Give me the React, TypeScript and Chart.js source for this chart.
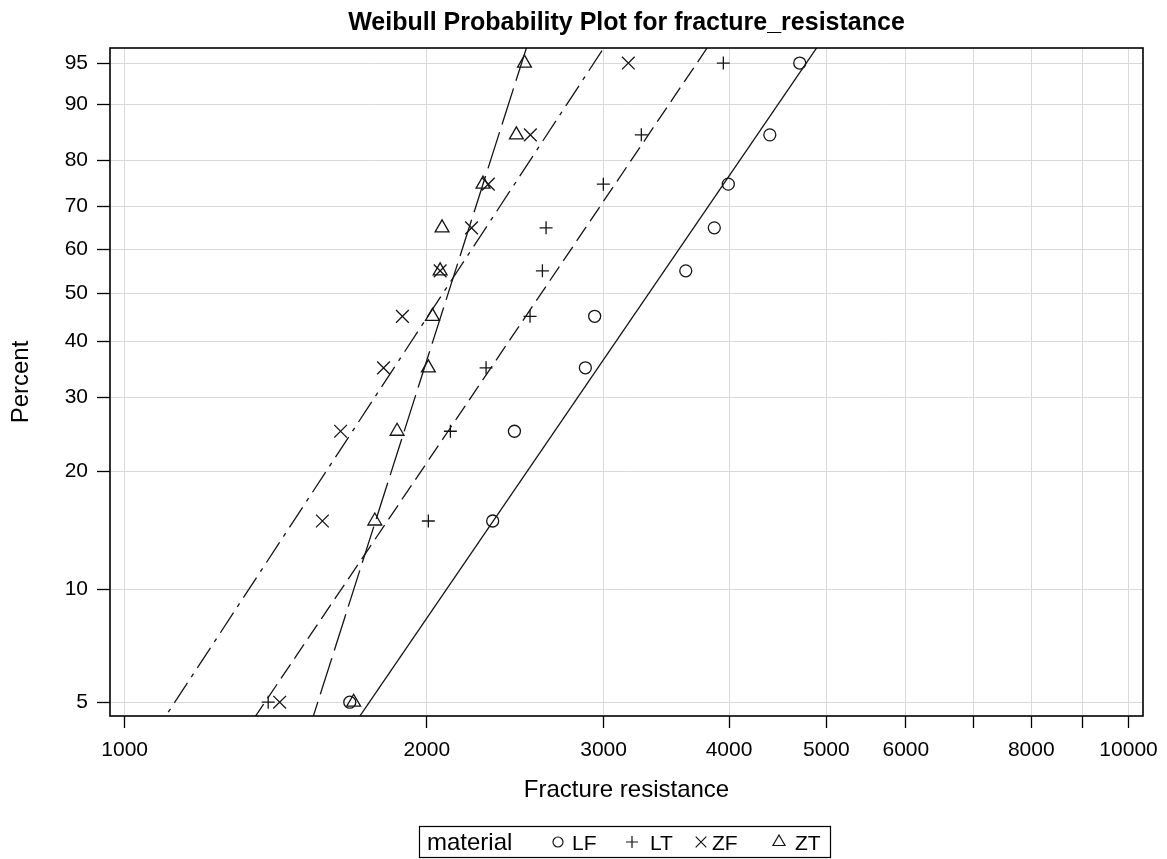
import React, { useEffect, useRef } from "react";
import { Chart, registerables } from "chart.js";

Chart.register(...registerables);

// ---------- data ----------
const materials = ["LF", "LT", "ZF", "ZT"];
const percents = [5, 15, 25, 35, 45, 55, 65, 75, 85, 95];
const lfValues = [1676, 2326, 2445, 2877, 2939, 3622, 3867, 3993, 4392, 4704];
const ltValues = [1390, 2007, 2111, 2291, 2534, 2607, 2629, 2998, 3271, 3948];
const zfValues = [1427, 1574, 1641, 1811, 1891, 2062, 2216, 2303, 2536, 3175];
const ztValues = [1691, 1775, 1868, 2007, 2026, 2062, 2071, 2275, 2456, 2502];

// fitted Weibull lines: fracture resistance at the two percent levels below
const linePercents = [4, 97];
const lfLine = [1657, 4964];
const ltLine = [1305, 3861];
const zfLine = [1063, 3045];
const ztLine = [1517, 2531];

const xTicks = [1000, 2000, 3000, 4000, 5000, 6000, 7000, 8000, 9000, 10000];
const xTickLabels = ["1000", "2000", "3000", "4000", "5000", "6000", "", "8000", "", "10000"];
const xRange = [967, 10337];
const yTicks = [5, 10, 20, 30, 40, 50, 60, 70, 80, 90, 95];
const yRange = [4.59, 96.3];

const FONT = "'Liberation Sans', Arial, Helvetica, sans-serif";
const INK = "#141414";

// Weibull probability scale
const weib = (p: number) => Math.log(-Math.log(1 - p / 100));

function drawMarker(ctx: CanvasRenderingContext2D, style: string, x: number, y: number, r: number) {
  ctx.beginPath();
  if (style === "circle") {
    ctx.arc(x, y, r, 0, Math.PI * 2);
  } else if (style === "cross") {
    ctx.moveTo(x - r, y);
    ctx.lineTo(x + r, y);
    ctx.moveTo(x, y - r);
    ctx.lineTo(x, y + r);
  } else if (style === "crossRot") {
    const d = r * 0.7071;
    ctx.moveTo(x - d, y - d);
    ctx.lineTo(x + d, y + d);
    ctx.moveTo(x + d, y - d);
    ctx.lineTo(x - d, y + d);
  } else if (style === "triangle") {
    for (let k = 0; k < 3; k++) {
      const a = (k * 2 * Math.PI) / 3;
      const px = x + Math.sin(a) * r;
      const py = y - Math.cos(a) * r;
      if (k === 0) ctx.moveTo(px, py);
      else ctx.lineTo(px, py);
    }
    ctx.closePath();
  }
  ctx.stroke();
}

export default function App() {
  const ref = useRef<HTMLCanvasElement>(null);

  useEffect(() => {
    const canvas = ref.current;
    if (!canvas) return;

    const toPts = (vals: number[], ps: number[]) => vals.map((v, i) => ({ x: v, y: weib(ps[i]) }));

    const seriesValues = [lfValues, ltValues, zfValues, ztValues];
    const seriesLines = [lfLine, ltLine, zfLine, ztLine];
    const styles = ["circle", "cross", "crossRot", "triangle"];
    const radii = [6, 6.5, 9, 8];
    const dashes: number[][] = [[], [17, 7], [24, 7, 4, 7], [38, 8]];

    const lineSets = materials.map((m, i) => ({
      label: m + " fit",
      data: toPts(seriesLines[i], linePercents),
      showLine: true,
      borderColor: INK,
      borderWidth: 1.3,
      borderDash: dashes[i],
      pointRadius: 0,
      pointHoverRadius: 0,
      fill: false,
    }));

    const pointSets = materials.map((m, i) => ({
      label: m,
      data: toPts(seriesValues[i], percents),
      showLine: false,
      pointStyle: styles[i],
      pointRadius: radii[i],
      pointHoverRadius: radii[i],
      pointBorderWidth: 1.3,
      pointBorderColor: INK,
      pointBackgroundColor: "rgba(0,0,0,0)",
      borderColor: INK,
      backgroundColor: "rgba(0,0,0,0)",
    }));

    const decor = {
      id: "decor",
      afterDraw(chart: any) {
        const ctx = chart.ctx as CanvasRenderingContext2D;
        const a = chart.chartArea;
        ctx.save();
        // frame
        ctx.strokeStyle = "#000";
        ctx.lineWidth = 1.6;
        ctx.strokeRect(a.left, a.top, a.right - a.left, a.bottom - a.top);
        // title
        ctx.fillStyle = "#000";
        ctx.textAlign = "center";
        ctx.textBaseline = "alphabetic";
        ctx.font = `bold 25px ${FONT}`;
        ctx.fillText("Weibull Probability Plot for fracture_resistance", (a.left + a.right) / 2, 29.5);
        // legend
        ctx.lineWidth = 1.2;
        ctx.strokeRect(419.5, 826.5, 411, 31);
        ctx.textAlign = "left";
        ctx.font = `24px ${FONT}`;
        ctx.fillText("material", 427, 850);
        ctx.font = `21px ${FONT}`;
        const markerX = [558, 632, 701, 779];
        const textX = [572, 650, 712, 795];
        const legR = [5, 6, 7.5, 7];
        ctx.lineWidth = 1.2;
        ctx.strokeStyle = INK;
        materials.forEach((m, i) => {
          drawMarker(ctx, styles[i], markerX[i], 842, legR[i]);
          ctx.fillText(m, textX[i], 850);
        });
        ctx.restore();
      },
    };

    const chart = new Chart(canvas, {
      type: "scatter",
      data: { datasets: [...lineSets, ...pointSets] as any },
      options: {
        responsive: false,
        devicePixelRatio: 1,
        animation: false,
        layout: { padding: { left: 0, right: 24, top: 48, bottom: 0 } },
        plugins: {
          legend: { display: false },
          title: { display: false },
          tooltip: { enabled: false },
        },
        scales: {
          x: {
            type: "logarithmic",
            min: xRange[0],
            max: xRange[1],
            afterBuildTicks: (s: any) => {
              s.ticks = xTicks.map((v) => ({ value: v }));
            },
            afterFit: (s: any) => {
              s.height = 143;
            },
            ticks: {
              autoSkip: false,
              maxRotation: 0,
              minRotation: 0,
              padding: 6,
              color: "#000",
              font: { family: FONT, size: 21, lineHeight: 1.5 },
              callback: (_v: any, i: number) => xTickLabels[i],
            },
            grid: {
              color: "#d9d9d9",
              lineWidth: 1,
              tickColor: "#000",
              tickLength: 12,
              tickWidth: 1.3,
            },
            border: { display: false },
            title: {
              display: true,
              text: "Fracture resistance",
              color: "#000",
              font: { family: FONT, size: 24 },
              padding: { top: 0, bottom: 54 },
            },
          },
          y: {
            type: "linear",
            min: weib(yRange[0]),
            max: weib(yRange[1]),
            afterBuildTicks: (s: any) => {
              s.ticks = yTicks.map((p) => ({ value: weib(p) }));
            },
            afterFit: (s: any) => {
              s.width = 110;
            },
            ticks: {
              autoSkip: false,
              padding: 9,
              color: "#000",
              font: { family: FONT, size: 21 },
              callback: (_v: any, i: number) => String(yTicks[i]),
            },
            grid: {
              color: "#d9d9d9",
              lineWidth: 1,
              tickColor: "#000",
              tickLength: 13,
              tickWidth: 1.3,
            },
            border: { display: false },
            title: {
              display: true,
              text: "Percent",
              color: "#000",
              font: { family: FONT, size: 24 },
              padding: { top: 7, bottom: 0 },
            },
          },
        },
      } as any,
      plugins: [decor],
    });

    return () => chart.destroy();
  }, []);

  return (
    <div style={{ position: "absolute", left: 0, top: 0, width: 1167, height: 859, background: "#fff" }}>
      <canvas ref={ref} width={1167} height={859} style={{ display: "block" }} />
    </div>
  );
}
